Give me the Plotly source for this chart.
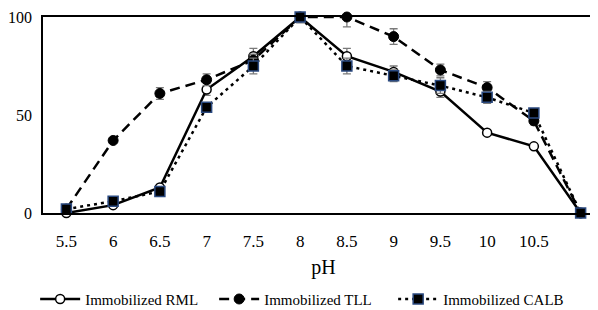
import plotly.graph_objects as go

ph = ["5.5", "6", "6.5", "7", "7.5", "8", "8.5", "9", "9.5", "10", "10.5", "11"]
tick_labels = ["5.5", "6", "6.5", "7", "7.5", "8", "8.5", "9", "9.5", "10", "10.5"]

rml = [0, 4, 13, 63, 80, 100, 80, 72, 62, 41, 34, 0]
rml_err = [0, 0, 1, 3, 4, 2, 4, 3, 3, 1, 1, 0]
tll = [2, 37, 61, 68, 78, 100, 100, 90, 73, 64, 47, 0]
tll_err = [0, 1, 3, 3, 3, 1, 5, 4, 3, 3, 2, 0]
calb = [2, 6, 11, 54, 75, 100, 75, 70, 65, 59, 51, 0]
calb_err = [0, 1, 1, 2, 4, 3, 4, 3, 4, 3, 2, 0]

FONT = "Liberation Serif"
ERR = dict(type="data", visible=True, color="#7a7a7a", thickness=1.3, width=4)

fig = go.Figure()
fig.add_trace(go.Scatter(
    x=ph, y=rml, name="Immobilized RML", mode="lines+markers",
    line=dict(color="black", width=2.5, dash="solid"),
    marker=dict(symbol="circle", size=9, color="white", line=dict(color="black", width=1.5)),
    error_y=dict(array=rml_err, **ERR), cliponaxis=False))
fig.add_trace(go.Scatter(
    x=ph, y=tll, name="Immobilized TLL", mode="lines+markers",
    line=dict(color="black", width=2.5, dash="10px,6px"),
    marker=dict(symbol="circle", size=10, color="black", line=dict(color="black", width=1)),
    error_y=dict(array=tll_err, **ERR), cliponaxis=False))
fig.add_trace(go.Scatter(
    x=ph, y=calb, name="Immobilized CALB", mode="lines+markers",
    line=dict(color="black", width=2.5, dash="3px,4px"),
    marker=dict(symbol="square", size=10, color="black", line=dict(color="#2b4a80", width=1.5)),
    error_y=dict(array=calb_err, **ERR), cliponaxis=False))

fig.update_layout(
    width=598, height=310,
    margin=dict(l=35, r=2, t=9, b=100),
    paper_bgcolor="white", plot_bgcolor="white",
    font=dict(family=FONT, size=16, color="black"),
    showlegend=True,
    legend=dict(orientation="h", x=-0.014, xanchor="left", y=-0.44, yanchor="middle",
                font=dict(family=FONT, size=15), itemwidth=40, tracegroupgap=0,
                entrywidth=124, entrywidthmode="pixels"),
    xaxis=dict(type="category", categoryorder="array", categoryarray=ph,
               tickvals=tick_labels, ticktext=tick_labels,
               range=[-0.5, 11.5], showgrid=False, zeroline=False,
               showline=True, linecolor="black", linewidth=1.5, mirror=True,
               ticks="", ticklabelstandoff=12, tickfont=dict(family=FONT, size=17),
               automargin=False,
               title=dict(text="pH", font=dict(family=FONT, size=20), standoff=10)),
    yaxis=dict(range=[0, 100], tickvals=[0, 50, 100], showgrid=False, zeroline=False,
               showline=True, linecolor="black", linewidth=1.5, mirror=True,
               ticks="", ticklabelstandoff=6, ticklabeloverflow="allow",
               automargin=False, tickfont=dict(family=FONT, size=16)),
)

fig.write_html("out.html")
